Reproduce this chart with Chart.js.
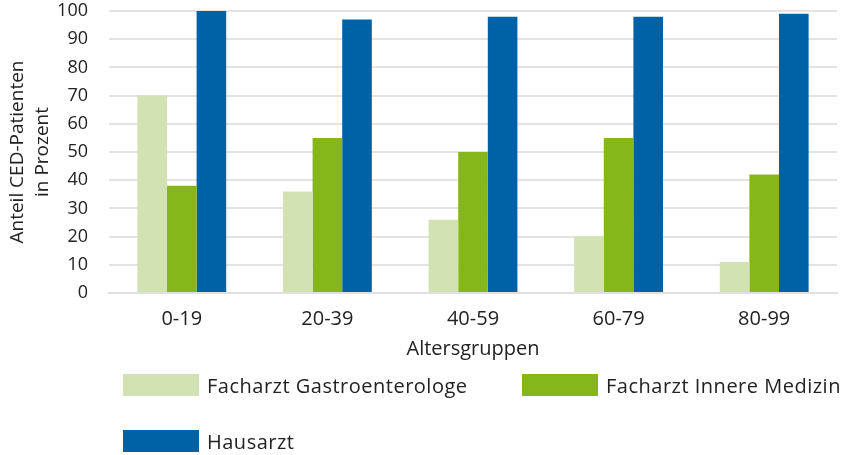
<!DOCTYPE html>
<html>
<head>
<meta charset="utf-8">
<script src="https://cdn.jsdelivr.net/npm/chart.js@4/dist/chart.umd.min.js"></script>
<style>
    html, body { margin: 0; padding: 0; background: #fff; }
    #wrap { position: relative; width: 842px; height: 455px; }
    canvas { display: block; }
    #legend { position: absolute; left: 0; top: 0; width: 842px; height: 455px; pointer-events: none;
              font-family: "Open Sans", sans-serif; font-size: 20px; letter-spacing: 0.5px; color: #222; }
    .item { position: absolute; display: flex; align-items: center; height: 22px; }
    .box { width: 76px; height: 22px; margin-right: 8px; }
</style>
</head>
<body>
<div id="wrap">
    <canvas id="chart" width="842" height="455"></canvas>
    <div id="legend"></div>
</div>
<script>
// Daten
const categories = ['0-19', '20-39', '40-59', '60-79', '80-99'];
const gastro = [70, 36, 26, 20, 11];
const innere = [38, 55, 50, 55, 42];
const hausarzt = [100, 97, 98, 98, 99];
const seriesNames = ['Facharzt Gastroenterologe', 'Facharzt Innere Medizin', 'Hausarzt'];
const seriesColors = ['#d3e2b2', '#86b71a', '#0062a6'];
const yTicks = [0, 10, 20, 30, 40, 50, 60, 70, 80, 90, 100];

const textColor = '#222';
const fontFamily = '"Open Sans", sans-serif';

const ctx = document.getElementById('chart').getContext('2d');
new Chart(ctx, {
    type: 'bar',
    data: {
        labels: categories,
        datasets: [gastro, innere, hausarzt].map((values, i) => ({
            label: seriesNames[i],
            data: values,
            backgroundColor: seriesColors[i],
            borderWidth: 0,
            categoryPercentage: 0.61,
            barPercentage: 1.0
        }))
    },
    options: {
        responsive: false,
        animation: false,
        layout: { padding: { top: 11, right: 5, bottom: 94, left: 5 } },
        plugins: {
            legend: { display: false },
            tooltip: { enabled: false }
        },
        scales: {
            x: {
                grid: { display: false },
                border: { color: '#e0e0e0', width: 2 },
                ticks: { color: textColor, font: { family: fontFamily, size: 20 }, padding: 6 },
                title: {
                    display: true,
                    text: 'Altersgruppen',
                    color: textColor,
                    font: { family: fontFamily, size: 20 },
                    padding: { top: 0, bottom: 0 }
                }
            },
            y: {
                min: 0,
                max: 100,
                afterBuildTicks: axis => { axis.ticks = yTicks.map(v => ({ value: v })); },
                // Breite und oberen Abstand fest vorgeben
                afterFit: scale => {
                    scale.width = 104;
                    scale.paddingTop = 0;
                },
                grid: { color: '#e3e3e3', lineWidth: 2, drawTicks: false },
                border: { display: false },
                ticks: { color: textColor, font: { family: fontFamily, size: 18 }, padding: 21 },
                title: {
                    display: true,
                    text: ['Anteil CED-Patienten', 'in Prozent'],
                    color: textColor,
                    font: { family: fontFamily, size: 19, lineHeight: 1.33 },
                    padding: { top: 0, bottom: 1 }
                }
            }
        }
    }
});

// Legende
const legendPos = [[123, 374], [522, 374], [123, 430]];
const legend = document.getElementById('legend');
seriesNames.forEach((name, i) => {
    const item = document.createElement('div');
    item.className = 'item';
    item.style.left = legendPos[i][0] + 'px';
    item.style.top = legendPos[i][1] + 'px';
    item.innerHTML = `<div class="box" style="background:${seriesColors[i]}"></div><span>${name}</span>`;
    legend.appendChild(item);
});
</script>
</body>
</html>
